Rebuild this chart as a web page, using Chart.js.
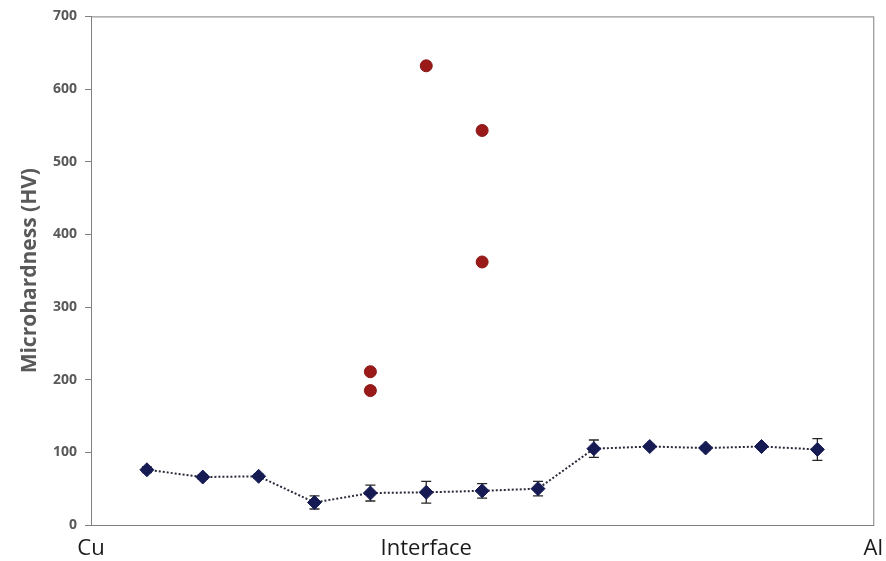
<!DOCTYPE html>
<html>
<head>
<meta charset="utf-8">
<script src="https://cdn.jsdelivr.net/npm/chart.js@4.4.1/dist/chart.umd.min.js"></script>
<style>
  html, body { margin: 0; padding: 0; background: #ffffff; }
  #wrap { width: 886px; height: 561px; position: relative; }
</style>
</head>
<body>
<div id="wrap"><canvas id="chart"></canvas></div>
<script>
// Measurement positions across the joint (Cu side -> interface -> Al side)
const samplePoints = [1, 2, 3, 4, 5, 6, 7, 8, 9, 10, 11, 12, 13];
// Mean microhardness (HV) at each position
const hardness = [76, 66, 67, 31, 44, 45, 47, 50, 105, 108, 106, 108, 104];
// Standard deviation (HV) at each position
const hardnessErr = [4, 3, 3, 9, 11, 15, 10, 10, 12, 3, 3, 3, 15];

// Indentations that landed in the intermetallic layer
const imcPoints = [5, 5, 6, 7, 7];
const imcHardness = [211, 185, 632, 543, 362];

// Region labels along the bottom and where they sit on the position scale
const regionLabels = ['Cu', 'Interface', 'Al'];
const regionTicks = [0, 6, 14];

const yTicks = [0, 100, 200, 300, 400, 500, 600, 700];

const errorBars = {
  id: 'errorBars',
  beforeDatasetsDraw(chart) {
    const meta = chart.getDatasetMeta(0);
    const y = chart.scales.y;
    const ctx = chart.ctx;
    ctx.save();
    ctx.strokeStyle = '#262626';
    ctx.lineWidth = 1.3;
    meta.data.forEach((pt, i) => {
      const top = y.getPixelForValue(hardness[i] + hardnessErr[i]);
      const bot = y.getPixelForValue(hardness[i] - hardnessErr[i]);
      ctx.beginPath();
      ctx.moveTo(pt.x, top); ctx.lineTo(pt.x, bot);
      ctx.moveTo(pt.x - 5, top); ctx.lineTo(pt.x + 5, top);
      ctx.moveTo(pt.x - 5, bot); ctx.lineTo(pt.x + 5, bot);
      ctx.stroke();
    });
    ctx.restore();
  }
};

const frameBox = {
  id: 'frameBox',
  beforeDatasetsDraw(chart) {
    const a = chart.chartArea;
    const ctx = chart.ctx;
    ctx.save();
    ctx.strokeStyle = '#7f7f7f';
    ctx.lineWidth = 1;
    ctx.strokeRect(a.left + 0.5, a.top + 0.5, a.right - a.left, a.bottom - a.top);
    ctx.restore();
  }
};

new Chart(document.getElementById('chart'), {
  type: 'scatter',
  data: {
    datasets: [
      {
        data: samplePoints.map((x, i) => ({ x: x, y: hardness[i] })),
        showLine: true,
        borderColor: '#2a2a3a',
        borderWidth: 2,
        borderDash: [2, 2],
        pointStyle: 'rectRot',
        pointRadius: 7,
        pointBackgroundColor: '#161b54',
        pointBorderColor: '#161b54',
        pointBorderWidth: 1,
        order: 2
      },
      {
        data: imcPoints.map((x, i) => ({ x: x, y: imcHardness[i] })),
        showLine: false,
        pointStyle: 'circle',
        pointRadius: 6,
        pointBackgroundColor: '#9a1a1a',
        pointBorderColor: '#8a1515',
        pointBorderWidth: 1,
        order: 1
      }
    ]
  },
  options: {
    responsive: true,
    maintainAspectRatio: false,
    animation: false,
    layout: { padding: { left: 0, right: 12, top: 14, bottom: 0 } },
    plugins: {
      legend: { display: false },
      tooltip: { enabled: false }
    },
    scales: {
      x: {
        type: 'linear',
        min: 0,
        max: 14,
        afterBuildTicks(scale) {
          scale.ticks = regionTicks.map(v => ({ value: v }));
        },
        afterFit(scale) { scale.height = 36; },
        grid: { display: false },
        border: { display: true, color: '#7f7f7f', width: 1 },
        ticks: {
          autoSkip: false,
          maxRotation: 0,
          padding: 3,
          color: '#1a1a1a',
          font: { family: 'Open Sans', size: 22 },
          callback(value) {
            const i = regionTicks.indexOf(value);
            return i >= 0 ? regionLabels[i] : '';
          }
        }
      },
      y: {
        type: 'linear',
        min: 0,
        max: 700,
        afterBuildTicks(scale) {
          scale.ticks = yTicks.map(v => ({ value: v }));
        },
        afterFit(scale) { scale.width = 91; },
        grid: {
          drawOnChartArea: false,
          drawTicks: true,
          tickLength: 6,
          color: '#7f7f7f'
        },
        border: { display: true, color: '#7f7f7f', width: 1 },
        title: {
          display: true,
          text: 'Microhardness (HV)',
          color: '#595959',
          font: { family: 'Open Sans', size: 21, weight: 'bold' },
          padding: { top: 17, bottom: 0 }
        },
        ticks: {
          padding: 8,
          color: '#595959',
          font: { family: 'Open Sans', size: 14, weight: 'bold' }
        }
      }
    }
  },
  plugins: [errorBars, frameBox]
});
</script>
</body>
</html>
